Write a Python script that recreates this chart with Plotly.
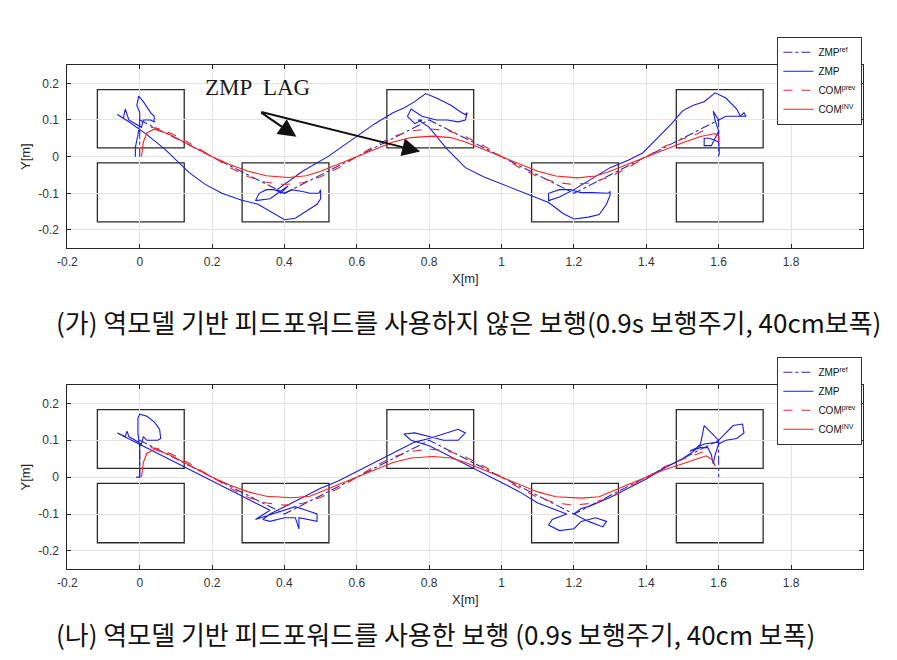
import plotly.graph_objects as go

# ---------------- data ----------------
x_tickvals = [-0.2, 0, 0.2, 0.4, 0.6, 0.8, 1, 1.2, 1.4, 1.6, 1.8]
x_ticktext = ["-0.2", "0", "0.2", "0.4", "0.6", "0.8", "1", "1.2", "1.4", "1.6", "1.8"]
y_tickvals = [-0.2, -0.1, 0, 0.1, 0.2]
y_ticktext = ["-0.2", "-0.1", "0", "0.1", "0.2"]

# footprints (left edge / right edge in x, bottom / top in y)
foot_x0 = [-0.117, -0.117, 0.283, 0.683, 1.083, 1.483, 1.483]
foot_x1 = [0.123, 0.123, 0.523, 0.923, 1.323, 1.723, 1.723]
foot_y0 = [0.024, -0.178, -0.178, 0.024, -0.178, 0.024, -0.178]
foot_y1 = [0.183, -0.017, -0.017, 0.183, -0.017, 0.183, -0.017]

# ---- (가) without inverse-model feedforward ----
a_ref_x = [0.0, 0.0, 0.4, 0.8, 1.2, 1.6, 1.6]
a_ref_y = [0.0, 0.1, -0.1, 0.1, -0.1, 0.1, 0.0]

a_zmp_x = [-0.012, -0.012, -0.005, 0.0, 0.0, -0.008, -0.003, 0.01, 0.03, 0.04, 0.04, 0.03, 0.01,
           0.005, -0.03, -0.04, -0.045, -0.062, -0.03, 0.02, 0.07, 0.136, 0.18, 0.227, 0.28, 0.327,
           0.36, 0.4, 0.43, 0.46, 0.49, 0.5, 0.5, 0.495, 0.47, 0.45, 0.42, 0.4, 0.37, 0.35, 0.33,
           0.32, 0.36, 0.41, 0.39, 0.38, 0.45, 0.52, 0.6, 0.65, 0.7, 0.73, 0.76, 0.79, 0.82, 0.86,
           0.89, 0.9, 0.905, 0.9, 0.88, 0.85, 0.82, 0.78, 0.75, 0.74, 0.76, 0.78, 0.77, 0.8, 0.85,
           0.9, 0.95, 1.0, 1.05, 1.1, 1.13, 1.17, 1.2, 1.24, 1.27, 1.29, 1.3, 1.3, 1.295, 1.25,
           1.22, 1.19, 1.16, 1.13, 1.13, 1.16, 1.2, 1.25, 1.3, 1.35, 1.39, 1.43, 1.47, 1.5, 1.53,
           1.56, 1.59, 1.62, 1.65, 1.66, 1.675, 1.67, 1.66, 1.64, 1.62, 1.6, 1.585, 1.59, 1.6,
           1.6, 1.602, 1.6, 1.575, 1.56, 1.56, 1.58, 1.59, 1.6]
a_zmp_y = [0.0, 0.025, 0.06, 0.09, 0.12, 0.14, 0.165, 0.15, 0.12, 0.11, 0.095, 0.1, 0.1,
           0.08, 0.1, 0.13, 0.105, 0.115, 0.095, 0.06, 0.02, -0.043, -0.075, -0.1, -0.118, -0.13,
           -0.15, -0.172, -0.168, -0.15, -0.13, -0.115, -0.09, -0.1, -0.1, -0.095, -0.09, -0.1,
           -0.09, -0.09, -0.1, -0.12, -0.115, -0.08, -0.1, -0.09, -0.04, 0.0, 0.055, 0.09, 0.12,
           0.133, 0.15, 0.172, 0.16, 0.14, 0.12, 0.115, 0.12, 0.1, 0.095, 0.1, 0.1, 0.11, 0.13,
           0.11, 0.09, 0.1, 0.1, 0.08, 0.02, -0.03, -0.055, -0.075, -0.095, -0.115, -0.125, -0.155,
           -0.17, -0.165, -0.158, -0.13, -0.105, -0.095, -0.1, -0.098, -0.098, -0.09, -0.09, -0.1,
           -0.12, -0.11, -0.09, -0.06, -0.03, -0.01, 0.01, 0.05, 0.09, 0.125, 0.14, 0.15, 0.174,
           0.16, 0.13, 0.11, 0.11, 0.12, 0.11, 0.11, 0.11, 0.1, 0.124, 0.1, 0.07, 0.04, 0.005,
           0.04, 0.05, 0.05, 0.03, 0.03, 0.05, 0.07]

a_comp_x = [0.03, 0.06, 0.1, 0.15, 0.2, 0.25, 0.3, 0.35, 0.4, 0.45, 0.5, 0.55, 0.6, 0.65, 0.7,
            0.75, 0.8, 0.85, 0.9, 0.95, 1.0, 1.05, 1.1, 1.15, 1.2, 1.25, 1.3, 1.35, 1.4, 1.45,
            1.5, 1.54, 1.575]
a_comp_y = [0.08, 0.075, 0.057, 0.03, 0.0, -0.03, -0.055, -0.07, -0.076, -0.071, -0.055, -0.03,
            0.0, 0.03, 0.055, 0.07, 0.076, 0.071, 0.055, 0.03, 0.0, -0.03, -0.055, -0.07, -0.076,
            -0.071, -0.055, -0.03, 0.0, 0.028, 0.048, 0.062, 0.08]

a_comi_x = [0.005, 0.01, 0.02, 0.04, 0.08, 0.12, 0.16, 0.2, 0.25, 0.3, 0.35, 0.41, 0.46, 0.5,
            0.55, 0.6, 0.65, 0.7, 0.75, 0.81, 0.86, 0.9, 0.95, 1.0, 1.05, 1.1, 1.15, 1.21, 1.26,
            1.3, 1.35, 1.4, 1.45, 1.5, 1.55, 1.59, 1.6, 1.6]
a_comi_y = [0.0, 0.04, 0.065, 0.075, 0.062, 0.042, 0.02, 0.0, -0.022, -0.04, -0.052, -0.057,
            -0.052, -0.04, -0.02, 0.0, 0.022, 0.04, 0.052, 0.056, 0.052, 0.04, 0.02, 0.0, -0.022,
            -0.04, -0.053, -0.058, -0.053, -0.04, -0.02, 0.0, 0.02, 0.038, 0.055, 0.063, 0.055, 0.04]

# ---- (나) with inverse-model feedforward ----
b_ref_x = [0.0, 0.0, 0.4, 0.8, 1.2, 1.6, 1.6]
b_ref_y = [0.0, 0.1, -0.1, 0.1, -0.1, 0.1, 0.0]

b_zmp_x = [-0.01, 0.0, 0.0, 0.0, -0.005, -0.005, 0.0, 0.02, 0.04, 0.055, 0.058, 0.05, 0.02, 0.01,
           0.005, -0.03, -0.035, -0.04, -0.062, 0.05, 0.12, 0.2, 0.27, 0.32, 0.36, 0.32, 0.35,
           0.4, 0.43, 0.46, 0.49, 0.49, 0.46, 0.44, 0.44, 0.43, 0.4, 0.36, 0.34, 0.36, 0.4, 0.45,
           0.5, 0.55, 0.6, 0.65, 0.7, 0.73, 0.76, 0.8, 0.85, 0.88, 0.9, 0.88, 0.84, 0.8, 0.76,
           0.73, 0.75, 0.8, 0.85, 0.9, 0.95, 1.0, 1.05, 1.1, 1.15, 1.18, 1.14, 1.13, 1.16, 1.2,
           1.22, 1.26, 1.29, 1.28, 1.24, 1.2, 1.22, 1.24, 1.3, 1.35, 1.4, 1.45, 1.5, 1.53, 1.55,
           1.56, 1.58, 1.6, 1.62, 1.64, 1.666, 1.67, 1.65, 1.62, 1.6, 1.59, 1.585, 1.58, 1.57,
           1.55, 1.52, 1.56, 1.6]
b_zmp_y = [0.0, 0.0, 0.03, 0.08, 0.12, 0.16, 0.171, 0.165, 0.15, 0.13, 0.105, 0.1, 0.1, 0.11,
           0.09, 0.11, 0.125, 0.11, 0.12, 0.065, 0.03, -0.01, -0.045, -0.07, -0.09, -0.115, -0.105,
           -0.09, -0.08, -0.09, -0.1, -0.12, -0.115, -0.11, -0.14, -0.11, -0.11, -0.12, -0.115,
           -0.1, -0.08, -0.055, -0.03, -0.01, 0.015, 0.04, 0.065, 0.08, 0.095, 0.105, 0.12, 0.13,
           0.12, 0.1, 0.1, 0.11, 0.12, 0.117, 0.1, 0.085, 0.06, 0.035, 0.01, -0.015, -0.04,
           -0.07, -0.09, -0.1, -0.115, -0.13, -0.145, -0.14, -0.12, -0.11, -0.12, -0.135, -0.12,
           -0.1, -0.085, -0.08, -0.055, -0.03, -0.005, 0.025, 0.05, 0.07, 0.09, 0.14, 0.12, 0.1,
           0.12, 0.14, 0.144, 0.12, 0.105, 0.1, 0.09, 0.06, 0.035, 0.06, 0.08, 0.08, 0.07, 0.09,
           0.095]

b_comp_x = [0.03, 0.06, 0.1, 0.15, 0.2, 0.25, 0.3, 0.35, 0.4, 0.45, 0.5, 0.55, 0.6, 0.65, 0.7,
            0.75, 0.8, 0.85, 0.9, 0.95, 1.0, 1.05, 1.1, 1.15, 1.2, 1.25, 1.3, 1.35, 1.4, 1.45,
            1.5, 1.54, 1.575]
b_comp_y = [0.08, 0.075, 0.057, 0.03, 0.0, -0.03, -0.055, -0.07, -0.076, -0.071, -0.055, -0.03,
            0.0, 0.03, 0.055, 0.07, 0.076, 0.071, 0.055, 0.03, 0.0, -0.03, -0.055, -0.07, -0.076,
            -0.071, -0.055, -0.03, 0.0, 0.028, 0.048, 0.062, 0.075]

b_comi_x = [0.005, 0.01, 0.02, 0.04, 0.08, 0.12, 0.16, 0.2, 0.25, 0.3, 0.35, 0.42, 0.47, 0.5,
            0.55, 0.6, 0.65, 0.7, 0.75, 0.81, 0.86, 0.9, 0.95, 1.0, 1.05, 1.1, 1.15, 1.22, 1.27,
            1.3, 1.35, 1.4, 1.45, 1.484, 1.53, 1.566, 1.585, 1.59]
b_comi_y = [0.0, 0.04, 0.065, 0.075, 0.062, 0.042, 0.02, 0.0, -0.022, -0.04, -0.052, -0.056,
            -0.052, -0.04, -0.02, 0.0, 0.022, 0.04, 0.052, 0.056, 0.052, 0.04, 0.02, 0.0, -0.022,
            -0.04, -0.053, -0.057, -0.053, -0.04, -0.02, 0.0, 0.02, 0.031, 0.045, 0.058, 0.045,
            0.03]

legend_names = ["ZMP<sup>ref</sup>", "ZMP", "COM<sup>prev</sup>", "COM<sup>INV</sup>"]
caption_a = "(가) 역모델 기반 피드포워드를 사용하지 않은 보행(0.9s 보행주기, 40cm보폭)"
caption_b = "(나) 역모델 기반 피드포워드를 사용한 보행 (0.9s 보행주기, 40cm 보폭)"
annot_text = "ZMP  LAG"
annot_pos = (0.325, 0.19)
lag_tail = (0.332, 0.123)
lag_tips_x = [0.433, 0.775]
lag_tips_y = [0.054, 0.014]

# ---------------- styles ----------------
C_REF = "#2a2ab8"
C_ZMP = "#1c1cdc"
C_COMP = "#e8283a"
C_COMI = "#ff1f1f"
W = 897
H = 660

fig = go.Figure()


def add_panel(xa, ya, legend, data):
    (rx, ry, zx, zy, px, py, ix, iy) = data
    specs = [
        (rx, ry, C_REF, "dashdot", legend_names[0]),
        (zx, zy, C_ZMP, "solid", legend_names[1]),
        (px, py, C_COMP, "dash", legend_names[2]),
        (ix, iy, C_COMI, "solid", legend_names[3]),
    ]
    for xs, ys, col, dash, name in specs:
        fig.add_trace(go.Scatter(x=xs, y=ys, mode="lines", name=name,
                                 line=dict(color=col, width=1.1, dash=dash),
                                 xaxis=xa, yaxis=ya, legend=legend))
    xref = "x" if xa == "x" else "x2"
    yref = "y" if ya == "y" else "y2"
    for x0, x1, y0, y1 in zip(foot_x0, foot_x1, foot_y0, foot_y1):
        fig.add_shape(type="rect", x0=x0, x1=x1, y0=y0, y1=y1, xref=xref, yref=yref,
                      line=dict(color="#2a2a2a", width=1.3), fillcolor="rgba(0,0,0,0)",
                      layer="below")


add_panel("x", "y", "legend",
          (a_ref_x, a_ref_y, a_zmp_x, a_zmp_y, a_comp_x, a_comp_y, a_comi_x, a_comi_y))
add_panel("x2", "y2", "legend2",
          (b_ref_x, b_ref_y, b_zmp_x, b_zmp_y, b_comp_x, b_comp_y, b_comi_x, b_comi_y))

px0, px1 = 58 / W, 863 / W
top_dom = [1 - 248.3 / H, 1 - 65 / H]
bot_dom = [1 - 569.3 / H, 1 - 385 / H]

axis_common = dict(showline=True, linecolor="#262626", linewidth=1, mirror="allticks",
                   ticks="inside", ticklen=4, tickcolor="#262626",
                   showgrid=True, gridcolor="#e3e3e3", gridwidth=1, zeroline=False,
                   tickfont=dict(family="Liberation Sans, Arial", size=12, color="#333333"))

xcommon = dict(axis_common, range=[-0.2, 2.0], tickvals=x_tickvals, ticktext=x_ticktext,
               ticklabelstandoff=2,
               title=dict(text="X[m]", font=dict(family="Liberation Sans, Arial", size=13,
                                                  color="#262626"), standoff=6))
ycommon = dict(axis_common, range=[-0.25, 0.25], tickvals=y_tickvals, ticktext=y_ticktext,
               ticklabelstandoff=5,
               title=dict(text="Y[m]", font=dict(family="Liberation Sans, Arial", size=13,
                                                  color="#262626"), standoff=4))

legend_common = dict(bgcolor="white", bordercolor="#333333", borderwidth=1,
                     font=dict(family="Liberation Sans, Arial", size=10, color="#111111"),
                     xanchor="right", yanchor="top", x=862 / W, tracegroupgap=0,
                     itemwidth=30)

fig.update_layout(
    width=W, height=H, margin=dict(l=0, r=0, t=0, b=0),
    paper_bgcolor="white", plot_bgcolor="white",
    xaxis=dict(xcommon, domain=[px0, px1], anchor="y"),
    yaxis=dict(ycommon, domain=top_dom, anchor="x"),
    xaxis2=dict(xcommon, domain=[px0, px1], anchor="y2"),
    yaxis2=dict(ycommon, domain=bot_dom, anchor="x2"),
    legend=dict(legend_common, y=1 - 36.7 / H),
    legend2=dict(legend_common, y=1 - 356.7 / H),
    showlegend=True,
)

# ZMP LAG text and arrows
fig.add_annotation(x=annot_pos[0], y=annot_pos[1], xref="x", yref="y", text=annot_text,
                   showarrow=False,
                   font=dict(family="Liberation Serif, Times New Roman", size=23,
                             color="#1a1a1a"))
for tx, ty in zip(lag_tips_x, lag_tips_y):
    fig.add_annotation(x=tx, y=ty, ax=lag_tail[0], ay=lag_tail[1], xref="x", yref="y",
                       axref="x", ayref="y", text="", showarrow=True, arrowhead=2,
                       arrowsize=1.8, arrowwidth=2, arrowcolor="#111111", standoff=0)

# captions
for cap, ypx in [(caption_a, 321), (caption_b, 633)]:
    fig.add_annotation(x=45 / W, y=1 - ypx / H, xref="paper", yref="paper", text=cap,
                       showarrow=False, xanchor="left", yanchor="middle",
                       font=dict(family="Noto Sans CJK KR", size=26, color="#111111"))

fig.write_html("out.html")
